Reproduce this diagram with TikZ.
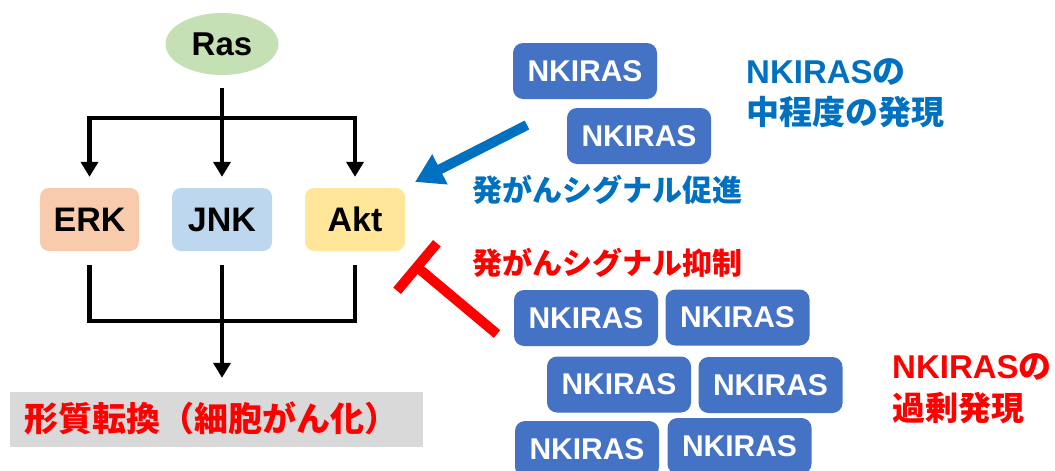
\documentclass[tikz,border=0pt]{standalone}
\usepackage{fontspec}
\setmainfont{Liberation Sans}
\newfontfamily\jp{Noto Sans CJK JP}
\usetikzlibrary{arrows.meta,shapes.geometric,calc}
\definecolor{rasgreen}{HTML}{C5E0B4}
\definecolor{erkfill}{HTML}{F8CBAD}
\definecolor{jnkfill}{HTML}{BDD7EE}
\definecolor{aktfill}{HTML}{FFE699}
\definecolor{nkblue}{HTML}{4472C4}
\definecolor{grayfill}{HTML}{D9D9D9}
\definecolor{txtblue}{HTML}{0070C0}
\definecolor{txtred}{HTML}{FF0000}
\begin{document}
\begin{tikzpicture}[x=1pt,y=-1pt,
  tbox/.style={rounded corners=9pt, minimum width=99pt, minimum height=63pt, inner sep=0pt, font=\fontsize{34}{34}\selectfont\bfseries},
  nk/.style={fill=nkblue, rounded corners=10pt, minimum width=144pt, minimum height=56pt, inner sep=0pt, text=white, font=\fontsize{30}{30}\selectfont\bfseries},
  conn/.style={line width=4.5pt},
  arr/.style={conn, -{Triangle[width=17pt,length=15pt]}},
  lbl/.style={anchor=base west, inner sep=0pt, font=\fontsize{33}{33}\selectfont\bfseries},
  sig/.style={anchor=base west, inner sep=0pt, font=\fontsize{30}{30}\selectfont\bfseries\jp},
]
\useasboundingbox (0,0) rectangle (1055,471);

% tree nodes
\node[ellipse, fill=rasgreen, minimum width=113pt, minimum height=62pt, inner sep=0pt,
      font=\fontsize{33}{33}\selectfont\bfseries] (ras) at (222,44) {Ras};
\node[tbox, fill=erkfill] (erk) at (89.5,219.5) {ERK};
\node[tbox, fill=jnkfill, minimum width=100pt] (jnk) at (222,219.5) {JNK};
\node[tbox, fill=aktfill, minimum width=100pt] (akt) at (355,219.5) {Akt};
\node[fill=grayfill, minimum width=413pt, minimum height=55pt, inner sep=0pt] (out) at (216.5,419.5) {};
\node[anchor=west, inner sep=0pt, text=txtred, font=\fontsize{34}{34}\selectfont\bfseries\jp] (outtxt) at (24,418) {形質転換（細胞がん化）};

% tree connectors
\coordinate (split) at (222,118);
\coordinate (merge) at (222,321);
\draw[conn] ([yshift=-13pt]ras.south) -- (split);
\draw[arr] (split) -| ([yshift=11pt]erk.north);
\draw[arr] (split) -| ([yshift=11pt]akt.north);
\draw[arr] (split) -- ([yshift=11pt]jnk.north);
\draw[conn] ([yshift=-14pt]erk.south) |- (merge) -| ([yshift=-14pt]akt.south);
\draw[conn] ([yshift=-14pt]jnk.south) -- (merge);
\draw[arr] (merge) -- ([yshift=14pt]merge |- out.north);

% NKIRAS boxes (moderate)
\node[nk] (n1) at (585,71) {NKIRAS};
\node[nk] (n2) at (639,136) {NKIRAS};
% NKIRAS boxes (over-expression)
\node[nk] (na) at (586,318) {NKIRAS};
\node[nk] (nb) at (737.5,317.5) {NKIRAS};
\node[nk] (nc) at (619,384.5) {NKIRAS};
\node[nk] (nd) at (770.5,385) {NKIRAS};
\node[nk] (ne) at (587,449) {NKIRAS};
\node[nk] (nf) at (739.5,446) {NKIRAS};

% labels
\node[lbl, text=txtblue] (bl1) at (746,83) {NKIRAS{\jp の}};
\node[lbl, text=txtblue] (bl2) at (746,124) {\jp 中程度の発現};
\node[lbl, text=txtred] (rl1) at (892,378) {NKIRAS{\jp の}};
\node[lbl, text=txtred] (rl2) at (892,420) {\jp 過剰発現};
\node[sig, text=txtblue] (sigp) at (472,201) {発がんシグナル促進};
\node[sig, text=txtred] (sigi) at (472,274) {発がんシグナル抑制};

% promotion arrow
\coordinate (pa) at (527,125);
\coordinate (pb) at (415,182);
\draw[txtblue, line width=10pt, -{Triangle[width=32pt,length=28pt]}] (pa) -- (pb);

% inhibition T-bar
\coordinate (ia) at (497,334);
\coordinate (ib) at (417,267);
\draw[txtred, line width=10pt] (ia) -- (ib);
\draw[txtred, line width=10pt] ($(ib)!31pt!90:(ia)$) -- ($(ib)!31pt!-90:(ia)$);
\end{tikzpicture}
\end{document}
